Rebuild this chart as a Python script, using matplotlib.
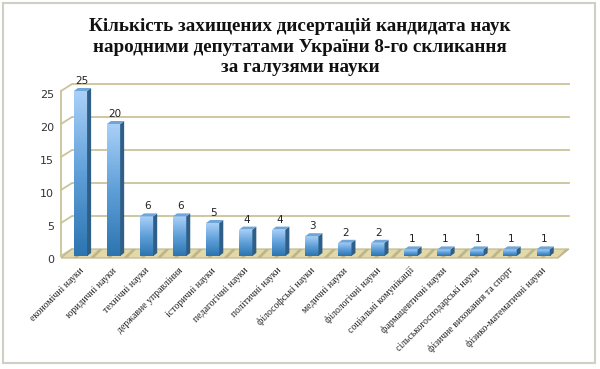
import matplotlib
matplotlib.use("Agg")
import matplotlib.pyplot as plt
import matplotlib.transforms as mtransforms
from matplotlib.patches import Polygon, Rectangle
from matplotlib.colors import LinearSegmentedColormap
import numpy as np

title = "Кількість захищених дисертацій кандидата наук\nнародними депутатами України 8-го скликання\nза галузями науки"
categories = ["економічні науки", "юридичні науки", "технічні науки", "державне управління",
              "історичні науки", "педагогічні науки", "політичні науки", "філософські науки",
              "медичні науки", "філологічні науки", "соціальні комунікації", "фармацевтичні науки",
              "сільськогосподарські науки", "фізичне виховання та спорт", "фізико-математичні науки"]
values = [25, 20, 6, 6, 5, 4, 4, 3, 2, 2, 1, 1, 1, 1, 1]
yticks = [0, 5, 10, 15, 20, 25]

plt.rcParams["hatch.color"] = "#f7f2de"
plt.rcParams["hatch.linewidth"] = 2.0

W, H = 600, 369
fig = plt.figure(figsize=(W / 100, H / 100), dpi=100)
fig.patch.set_facecolor("white")
IDT = mtransforms.IdentityTransform()

# outer frame
fig.add_artist(Rectangle((3 / W, 6 / H), 592 / W, 360 / H, transform=fig.transFigure,
                         fill=False, edgecolor="#cfcfc4", lw=1.5))

left, right = 61, 558
bottom, top = 256, 91
ax = fig.add_axes([left / W, 1 - bottom / H, (right - left) / W, (bottom - top) / H])
ax.set_axis_off()
xlo, xhi = -0.59, 14.45
ylo, yhi = 0, 25
ax.set_xlim(xlo, xhi)
ax.set_ylim(ylo, yhi)
ax.set_autoscale_on(False)

DX, DY = 11, 7
grid_c = "#c9c49a"


def disp(x, y, back=False):
    p = ax.transData.transform((x, y))
    if back:
        p = p + np.array([DX, DY])
    return p


# floor
p1 = disp(xlo, 0) + np.array([0, -2])
p2 = disp(xhi, 0) + np.array([0, -2])
p3 = disp(xhi, 0, True)
p4 = disp(xlo, 0, True)
ax.add_patch(Polygon([p1, p2, p3, p4], closed=True, transform=IDT,
                     facecolor="#e3d9a8", edgecolor="#bdb68a", lw=0.8,
                     hatch="//", zorder=1, clip_on=False))

# gridlines on back wall + slanted ticks
for v in yticks:
    a = disp(xlo, v)
    b = disp(xlo, v, True)
    c = disp(xhi, v, True)
    if v > 0:
        xs, ys = [a[0], b[0], c[0]], [a[1], b[1], c[1]]
    else:
        xs, ys = [a[0], b[0]], [a[1], b[1]]
    ax.add_line(plt.Line2D(xs, ys, transform=IDT, color=grid_c, lw=1.3, zorder=0.5, clip_on=False))
    ax.text(xlo, v, str(v), transform=mtransforms.offset_copy(ax.transData, fig=fig, x=-7, y=-4, units="dots"),
            ha="right", va="center", fontsize=8, color="#333333", family="DejaVu Sans")
a = disp(xlo, 0)
b = disp(xlo, 25)
ax.add_line(plt.Line2D([a[0], b[0]], [a[1], b[1]], transform=IDT, color=grid_c, lw=1.3,
                       zorder=0.5, clip_on=False))

# bars
bw = 0.2
dx_side, dy_side = 4, 3
grad = np.linspace(0, 1, 100).reshape(-1, 1)
cmap = LinearSegmentedColormap.from_list("b", ["#2c75b0", "#5f9fd9", "#a9d0f7"])
bars = ax.bar(range(len(values)), values, width=2 * bw, color="#5b9bd5", zorder=3, linewidth=0,
              clip_on=False)
for i, (bar, v) in enumerate(zip(bars, values)):
    im = ax.imshow(grad, cmap=cmap, aspect="auto", origin="lower",
                   extent=(i - bw, i + bw, 0, v), zorder=3.1)
    im.set_clip_path(bar)
    fl = disp(i - bw, v)
    fr = disp(i + bw, v)
    br = disp(i + bw, 0)
    off = np.array([dx_side, dy_side])
    ax.add_patch(Polygon([fr, br, br + off, fr + off], closed=True, transform=IDT,
                         facecolor="#2f5f86", edgecolor="none", zorder=3.2, clip_on=False))
    ax.add_patch(Polygon([fl, fr, fr + off, fl + off], closed=True, transform=IDT,
                         facecolor="#6ea6da", edgecolor="none", zorder=3.2, clip_on=False))
    ax.text(i, v, str(v), transform=mtransforms.offset_copy(ax.transData, fig=fig, x=1, y=5, units="dots"),
            ha="center", va="bottom", fontsize=7.5, color="#222222", family="DejaVu Sans", zorder=5)
    ax.text(i + 0.05, 0, categories[i],
            transform=mtransforms.offset_copy(ax.transData, fig=fig, x=0, y=-13, units="dots"),
            ha="right", va="center", rotation=45, rotation_mode="anchor",
            fontsize=7, color="#222222", family="Liberation Serif")

ax.set_xlim(xlo, xhi)
ax.set_ylim(ylo, yhi)

fig.text(0.5, 1 - 47 / H, title, ha="center", va="center", fontsize=13.8,
         fontweight="bold", family="Liberation Serif", linespacing=1.25, color="#111111")

fig.savefig("out.png", dpi=100)
